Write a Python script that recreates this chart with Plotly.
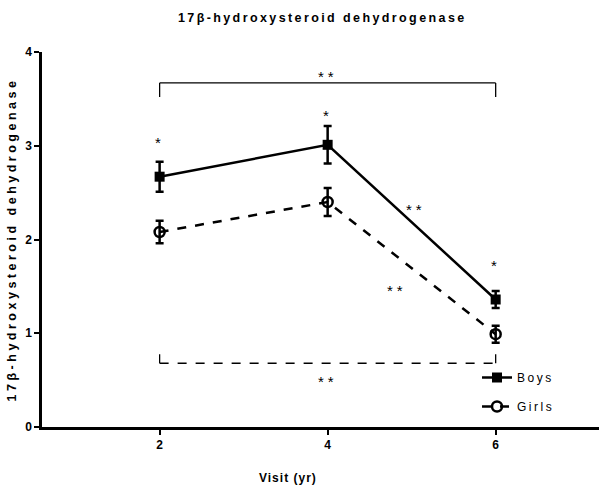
import plotly.graph_objects as go

visits = [2, 4, 6]
boys = [2.67, 3.01, 1.36]
boys_err = [0.16, 0.20, 0.09]
girls = [2.08, 2.40, 0.99]
girls_err = [0.12, 0.15, 0.09]

# significance annotations: (x, y, text)
stars_x = [2, 4, 6, 5.05, 4.83, 4, 4]
stars_y = [3.03, 3.32, 1.72, 2.32, 1.46, 3.74, 0.49]
stars_t = ["*", "*", "*", "**", "**", "**", "**"]

# brackets: (x0, x1, bar y, leg end y, dash)
brackets = [(2, 6, 3.67, 3.52, "solid"), (2, 6, 0.68, 0.81, "dash")]

title_txt = "17β-hydroxysteroid dehydrogenase"
FONT = "Liberation Sans"

fig = go.Figure()
fig.add_trace(go.Scatter(
    x=visits, y=boys, name="Boys", mode="lines+markers",
    line=dict(color="black", width=2.5),
    marker=dict(symbol="square", size=10, color="black"),
    error_y=dict(type="data", array=boys_err, color="black", thickness=2.5, width=4),
    legendgroup="b",
))
fig.add_trace(go.Scatter(
    x=visits, y=girls, name="Girls", mode="lines+markers",
    line=dict(color="black", width=2.5, dash="dash"),
    marker=dict(symbol="circle-open", size=10, color="black", line=dict(width=2.5)),
    error_y=dict(type="data", array=girls_err, color="black", thickness=2.5, width=4),
    legendgroup="g",
))

for x, y, t in zip(stars_x, stars_y, stars_t):
    fig.add_annotation(x=x, y=y, text=t, showarrow=False,
                       font=dict(family=FONT, size=15, color="black"))

for x0, x1, yb, yl, dash in brackets:
    for xs, ys in [((x0, x1), (yb, yb)), ((x0, x0), (yb, yl)), ((x1, x1), (yb, yl))]:
        fig.add_shape(type="line", x0=xs[0], x1=xs[1], y0=ys[0], y1=ys[1],
                      line=dict(color="black", width=1.3, dash=dash))

fig.add_annotation(x=(288 - 42) / 557, y=(427 - 478) / 375, xref="paper", yref="paper",
                   text="Visit (yr)", showarrow=False, yanchor="middle",
                   font=dict(family=FONT, size=12, color="black", weight="bold"))

fig.update_layout(
    width=599, height=489,
    margin=dict(l=42, r=0, t=52, b=62),
    plot_bgcolor="white", paper_bgcolor="white",
    title=dict(text=title_txt, x=0.538, xanchor="center", y=1 - 18 / 489, yanchor="middle",
               font=dict(family=FONT, size=12.5, color="black", weight="bold")),
    xaxis=dict(range=[0.6, 7.23], tickvals=visits, ticktext=[str(v) for v in visits],
               showgrid=False, zeroline=False, showline=True, linecolor="black", linewidth=2.5,
               ticks="outside", ticklen=5, tickwidth=2, tickcolor="black",
               tickfont=dict(family=FONT, size=12, color="black", weight="bold")),
    yaxis=dict(range=[0, 4], tickvals=[0, 1, 2, 3, 4],
               showgrid=False, zeroline=False, showline=True, linecolor="black", linewidth=2.5,
               ticks="outside", ticklen=5, tickwidth=2, tickcolor="black",
               title=dict(text=title_txt, standoff=6,
                          font=dict(family=FONT, size=12.5, color="black", weight="bold")),
               tickfont=dict(family=FONT, size=12, color="black", weight="bold")),
    legend=dict(x=0.781, y=(489 - 62 - 363) / (489 - 52 - 62), xanchor="left", yanchor="top",
                bgcolor="rgba(0,0,0,0)", tracegroupgap=10,
                font=dict(family=FONT, size=12, color="black")),
    showlegend=True,
)

post = """
var gd = document.getElementById('{plot_id}');
gd.querySelectorAll('.gtitle').forEach(function(e){ e.style.letterSpacing = '2.4px'; });
gd.querySelectorAll('.ytitle').forEach(function(e){ e.style.letterSpacing = '3.5px'; });
gd.querySelectorAll('.legendtext').forEach(function(e){ e.style.letterSpacing = '2.5px'; });
gd.querySelectorAll('.legend [clip-path]').forEach(function(e){ e.removeAttribute('clip-path'); });
gd.querySelectorAll('.annotation-text').forEach(function(e){
  if (e.textContent.indexOf('*') >= 0) { e.style.letterSpacing = '4px'; }
  else { e.style.letterSpacing = '1px'; }
});
"""
fig.write_html("out.html", post_script=post)
